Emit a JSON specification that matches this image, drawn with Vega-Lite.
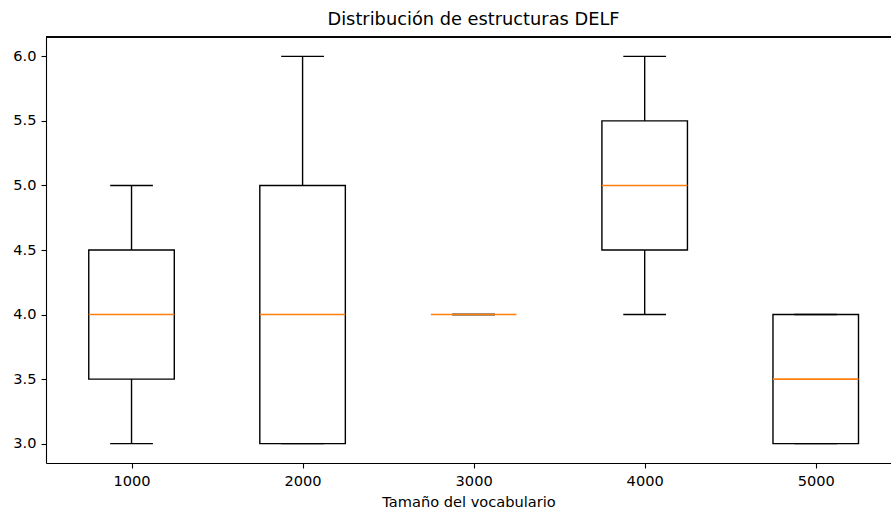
{
  "$schema": "https://vega.github.io/schema/vega-lite/v6.json",
  "width": 845,
  "height": 426,
  "autosize": {"type": "none"},
  "padding": {"left": 46, "top": 37, "right": 0, "bottom": 47},
  "background": "white",
  "config": {
    "font": "DejaVu Sans",
    "view": {"stroke": null},
    "axis": {"domainColor": "black", "domainWidth": 1.1, "tickColor": "black", "tickWidth": 1.1, "tickSize": 5, "labelColor": "black", "labelFontSize": 14.6, "labelFont": "DejaVu Sans", "titleFont": "DejaVu Sans", "titleFontSize": 14.6, "titleFontWeight": "normal", "titleColor": "black", "grid": false, "labelPadding": 5}
  },
  "title": {"text": "Distribución de estructuras DELF", "fontSize": 17.8, "fontWeight": "normal", "font": "DejaVu Sans", "color": "black", "anchor": "middle", "offset": 8, "dx": 5},
  "data": {"values": [
    {"vocab": 1000, "whislo": 3.0, "q1": 3.5, "med": 4.0, "q3": 4.5, "whishi": 5.0},
    {"vocab": 2000, "whislo": 3.0, "q1": 3.0, "med": 4.0, "q3": 5.0, "whishi": 6.0},
    {"vocab": 3000, "whislo": 4.0, "q1": 4.0, "med": 4.0, "q3": 4.0, "whishi": 4.0},
    {"vocab": 4000, "whislo": 4.0, "q1": 4.5, "med": 5.0, "q3": 5.5, "whishi": 6.0},
    {"vocab": 5000, "whislo": 3.0, "q1": 3.0, "med": 3.5, "q3": 4.0, "whishi": 4.0}
  ]},
  "transform": [
    {"calculate": "datum.vocab - 250", "as": "lo"},
    {"calculate": "datum.vocab + 250", "as": "hi"},
    {"calculate": "datum.vocab - 125", "as": "clo"},
    {"calculate": "datum.vocab + 125", "as": "chi"}
  ],
  "layer": [
    {
      "mark": {"type": "rule", "color": "black", "strokeWidth": 1.4},
      "encoding": {
        "x": {"field": "vocab", "type": "quantitative", "scale": {"domain": [500, 5440], "nice": false, "zero": false}, "axis": {"values": [1000, 2000, 3000, 4000, 5000], "format": "d", "title": "Tamaño del vocabulario", "titlePadding": 7}},
        "y": {"field": "whislo", "type": "quantitative", "scale": {"domain": [2.85, 6.15], "nice": false, "zero": false}, "axis": {"values": [3.0, 3.5, 4.0, 4.5, 5.0, 5.5, 6.0], "format": ".1f", "title": null}},
        "y2": {"field": "q1"}
      }
    },
    {
      "mark": {"type": "rule", "color": "black", "strokeWidth": 1.4},
      "encoding": {
        "x": {"field": "vocab", "type": "quantitative"},
        "y": {"field": "q3", "type": "quantitative"},
        "y2": {"field": "whishi"}
      }
    },
    {
      "mark": {"type": "rule", "color": "black", "strokeWidth": 1.4},
      "encoding": {
        "x": {"field": "clo", "type": "quantitative"},
        "x2": {"field": "chi"},
        "y": {"field": "whislo", "type": "quantitative"}
      }
    },
    {
      "mark": {"type": "rule", "color": "black", "strokeWidth": 1.4},
      "encoding": {
        "x": {"field": "clo", "type": "quantitative"},
        "x2": {"field": "chi"},
        "y": {"field": "whishi", "type": "quantitative"}
      }
    },
    {
      "transform": [{"filter": "datum.q3 > datum.q1"}],
      "mark": {"type": "rect", "fill": "white", "fillOpacity": 0, "stroke": "black", "strokeWidth": 1.4},
      "encoding": {
        "x": {"field": "lo", "type": "quantitative"},
        "x2": {"field": "hi"},
        "y": {"field": "q1", "type": "quantitative"},
        "y2": {"field": "q3"}
      }
    },
    {
      "mark": {"type": "rule", "color": "#ff7f0e", "strokeWidth": 1.6},
      "encoding": {
        "x": {"field": "lo", "type": "quantitative"},
        "x2": {"field": "hi"},
        "y": {"field": "med", "type": "quantitative"}
      }
    },
    {
      "mark": {"type": "rule", "color": "black", "strokeWidth": 1.1},
      "encoding": {
        "y": {"datum": 6.15, "type": "quantitative"}
      }
    }
  ]
}
